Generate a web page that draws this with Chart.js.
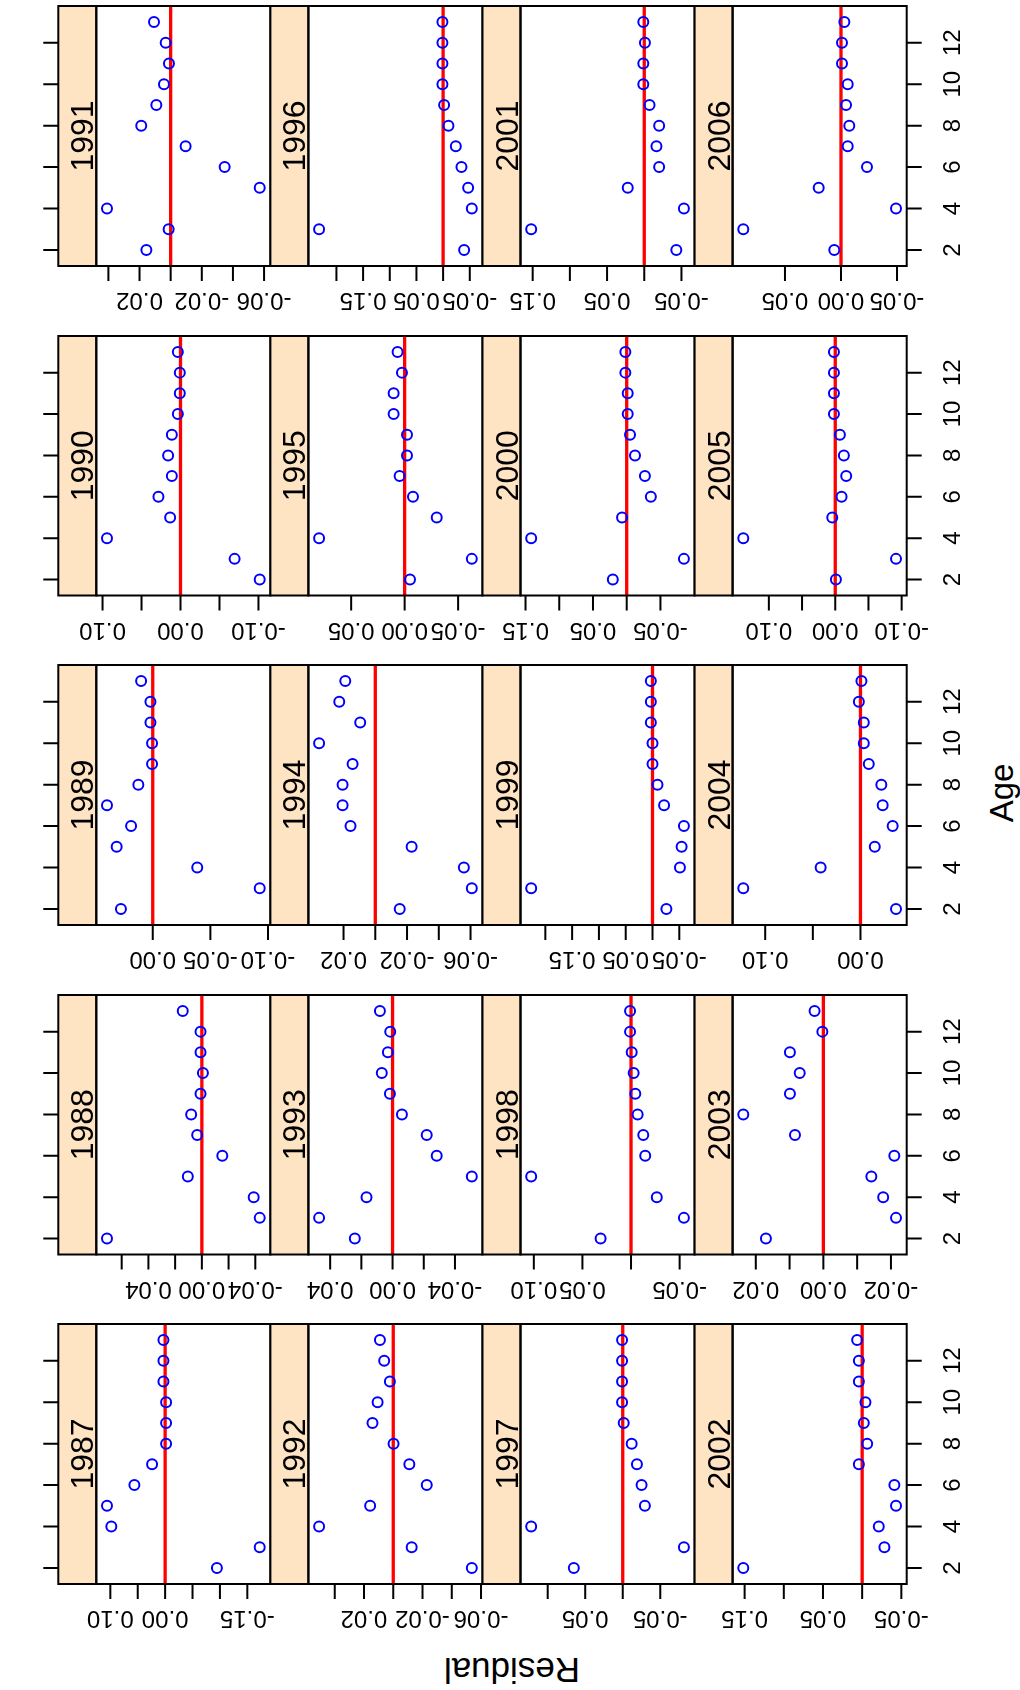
<!doctype html>
<html>
<head>
<meta charset="utf-8">
<title>Residuals by age and year</title>
<script src="https://cdn.jsdelivr.net/npm/chart.js@4.4.1/dist/chart.umd.min.js"></script>
<style>
  body { margin: 0; background: #fff; }
  #page { position: relative; width: 1020px; height: 1690px; overflow: hidden;
          font-family: "Liberation Sans", Arial, sans-serif; }
  #page canvas { position: absolute; }
  .title { position: absolute; font-size: 33px; line-height: 33px; white-space: nowrap; color: #000; }
</style>
</head>
<body>
<div id="page">
  <div class="title" id="ageTitle">Age</div>
  <div class="title" id="resTitle">Residual</div>
</div>
<script>
// ages on the vertical axis, one residual per age (2..13) for each year
const AGES = [2, 3, 4, 5, 6, 7, 8, 9, 10, 11, 12, 13];
const AGE_TICKS = [2, 4, 6, 8, 10, 12];
const YEARS = [1987, 1988, 1989, 1990, 1991, 1992, 1993, 1994, 1995, 1996,
               1997, 1998, 1999, 2000, 2001, 2002, 2003, 2004, 2005, 2006];

const res1987 = [-0.0945, -0.1726, 0.0982, 0.1061, 0.0561, 0.0238, -0.0018, -0.0018, -0.0018, 0.0031, 0.0031, 0.0031];
const res1988 = [0.0710, -0.0433, -0.0388, 0.0105, -0.0153, 0.0035, 0.0080, 0.0010, -0.0008, 0.0010, 0.0010, 0.0143];
const res1989 = [0.0276, -0.0928, -0.0386, 0.0313, 0.0188, 0.0397, 0.0125, 0.0006, 0.0006, 0.0020, 0.0020, 0.0101];
const res1990 = [-0.1016, -0.0694, 0.0943, 0.0133, 0.0283, 0.0111, 0.0159, 0.0111, 0.0034, 0.0009, 0.0009, 0.0034];
const res1991 = [0.0156, 0.0013, 0.0409, -0.0572, -0.0347, -0.0096, 0.0189, 0.0092, 0.0043, 0.0011, 0.0032, 0.0107];
const res1992 = [-0.0537, -0.0126, 0.0507, 0.0158, -0.0229, -0.0110, -0.0002, 0.0142, 0.0107, 0.0023, 0.0062, 0.0091];
const res1993 = [0.0242, 0.0471, 0.0167, -0.0508, -0.0283, -0.0219, -0.0060, 0.0017, 0.0069, 0.0030, 0.0015, 0.0081];
const res1994 = [-0.0154, -0.0608, -0.0558, -0.0229, 0.0156, 0.0206, 0.0206, 0.0143, 0.0354, 0.0095, 0.0227, 0.0189];
const res1995 = [-0.0050, -0.0628, 0.0800, -0.0300, -0.0078, 0.0047, -0.0022, -0.0022, 0.0103, 0.0103, 0.0025, 0.0066];
const res1996 = [-0.0394, 0.2325, -0.0538, -0.0469, -0.0344, -0.0238, -0.0100, -0.0019, 0.0013, 0.0013, 0.0013, 0.0013];
const res1997 = [0.0652, -0.0815, 0.1220, -0.0295, -0.0251, -0.0189, -0.0119, -0.0013, 0.0009, 0.0009, 0.0009, 0.0009];
const res1998 = [0.0313, -0.0544, -0.0265, 0.1027, -0.0146, -0.0126, -0.0068, -0.0044, -0.0027, -0.0007, 0.0010, 0.0010];
const res1999 = [-0.0259, 0.2264, -0.0512, -0.0543, -0.0586, -0.0216, -0.0093, 0.0000, 0.0000, 0.0031, 0.0031, 0.0031];
const res2000 = [0.0206, -0.0848, 0.1416, 0.0069, -0.0358, -0.0270, -0.0123, -0.0049, -0.0015, -0.0015, 0.0020, 0.0020];
const res2001 = [-0.0431, 0.1520, -0.0533, 0.0222, -0.0200, -0.0164, -0.0200, -0.0071, 0.0013, 0.0013, -0.0009, 0.0013];
const res2002 = [0.1517, -0.0284, -0.0212, -0.0432, -0.0411, 0.0042, -0.0064, -0.0021, -0.0042, 0.0042, 0.0042, 0.0064];
const res2003 = [0.0170, -0.0215, -0.0177, -0.0142, -0.0210, 0.0084, 0.0237, 0.0099, 0.0070, 0.0099, 0.0003, 0.0026];
const res2004 = [-0.0373, 0.1230, 0.0418, -0.0150, -0.0338, -0.0233, -0.0219, -0.0087, -0.0035, -0.0035, 0.0017, -0.0010];
const res2005 = [-0.0010, -0.0915, 0.1385, 0.0045, -0.0095, -0.0165, -0.0130, -0.0070, 0.0020, 0.0020, 0.0020, 0.0020];
const res2006 = [0.0060, 0.0872, -0.0491, 0.0199, -0.0232, -0.0060, -0.0074, -0.0045, -0.0060, -0.0009, -0.0009, -0.0030];

// residual axis ticks and the labels that are printed under each panel
const ticks1987 = [0.10, 0.05, 0, -0.05, -0.10, -0.15], labels1987 = ["0.10", "0.00", "-0.15"];
const ticks1988 = [0.06, 0.04, 0.02, 0, -0.02, -0.04], labels1988 = ["0.04", "0.00", "-0.04"];
const ticks1989 = [0, -0.05, -0.10], labels1989 = ["0.00", "-0.05", "-0.10"];
const ticks1990 = [0.10, 0.05, 0, -0.05, -0.10], labels1990 = ["0.10", "0.00", "-0.10"];
const ticks1991 = [0.04, 0.02, 0, -0.02, -0.04, -0.06], labels1991 = ["0.02", "-0.02", "-0.06"];
const ticks1992 = [0.04, 0.02, 0, -0.02, -0.04, -0.06], labels1992 = ["0.02", "-0.02", "-0.06"];
const ticks1993 = [0.04, 0.02, 0, -0.02, -0.04], labels1993 = ["0.04", "0.00", "-0.04"];
const ticks1994 = [0.02, 0, -0.02, -0.04, -0.06], labels1994 = ["0.02", "-0.02", "-0.06"];
const ticks1995 = [0.05, 0, -0.05], labels1995 = ["0.05", "0.00", "-0.05"];
const ticks1996 = [0.20, 0.15, 0.10, 0.05, 0, -0.05], labels1996 = ["0.15", "0.05", "-0.05"];
const ticks1997 = [0.10, 0.05, 0, -0.05], labels1997 = ["0.05", "-0.05"];
const ticks1998 = [0.10, 0.05, 0, -0.05], labels1998 = ["0.10", "0.05", "-0.05"];
const ticks1999 = [0.20, 0.15, 0.10, 0.05, 0, -0.05], labels1999 = ["0.15", "0.05", "-0.05"];
const ticks2000 = [0.15, 0.10, 0.05, 0, -0.05], labels2000 = ["0.15", "0.05", "-0.05"];
const ticks2001 = [0.15, 0.10, 0.05, 0, -0.05], labels2001 = ["0.15", "0.05", "-0.05"];
const ticks2002 = [0.15, 0.10, 0.05, 0, -0.05], labels2002 = ["0.15", "0.05", "-0.05"];
const ticks2003 = [0.02, 0.01, 0, -0.01, -0.02], labels2003 = ["0.02", "0.00", "-0.02"];
const ticks2004 = [0.10, 0.05, 0], labels2004 = ["0.10", "0.00"];
const ticks2005 = [0.10, 0.05, 0, -0.05, -0.10], labels2005 = ["0.10", "0.00", "-0.10"];
const ticks2006 = [0.05, 0, -0.05], labels2006 = ["0.05", "0.00", "-0.05"];

const PANELS = [
  [res1987, ticks1987, labels1987], [res1988, ticks1988, labels1988], [res1989, ticks1989, labels1989],
  [res1990, ticks1990, labels1990], [res1991, ticks1991, labels1991], [res1992, ticks1992, labels1992],
  [res1993, ticks1993, labels1993], [res1994, ticks1994, labels1994], [res1995, ticks1995, labels1995],
  [res1996, ticks1996, labels1996], [res1997, ticks1997, labels1997], [res1998, ticks1998, labels1998],
  [res1999, ticks1999, labels1999], [res2000, ticks2000, labels2000], [res2001, ticks2001, labels2001],
  [res2002, ticks2002, labels2002], [res2003, ticks2003, labels2003], [res2004, ticks2004, labels2004],
  [res2005, ticks2005, labels2005], [res2006, ticks2006, labels2006]
];

// layout (page pixels)
const COL_X = [58.3, 270.4, 482.5, 694.6, 906.7];
const BAND_TOP = [2.7, 332.2, 661.7, 991.2, 1320.7];
const PANEL_H = 263.3;
const STRIP_W = 38;
const TICK_LEN = 15;
const FONT = '"Liberation Sans", Arial, sans-serif';

const panelDecor = {
  id: 'panelDecor',
  afterDraw(chart, args, o) {
    const ctx = chart.ctx, a = chart.chartArea;
    const xs = chart.scales.x, ys = chart.scales.y;
    const h = a.bottom - a.top;
    ctx.save();
    // strip
    ctx.fillStyle = '#FFE4C4';
    ctx.fillRect(a.left - STRIP_W, a.top, STRIP_W, h);
    ctx.strokeStyle = '#000';
    ctx.lineWidth = 2;
    ctx.strokeRect(a.left - STRIP_W, a.top, STRIP_W, h);
    ctx.strokeRect(a.left, a.top, a.right - a.left, h);

    ctx.fillStyle = '#000';
    ctx.font = '32px ' + FONT;
    ctx.textAlign = 'center';
    ctx.textBaseline = 'alphabetic';
    ctx.save();
    ctx.translate(a.left - STRIP_W + 35, (a.top + a.bottom) / 2);
    ctx.rotate(-Math.PI / 2);
    ctx.fillText(String(o.year), 0, 0);
    ctx.restore();

    // residual ticks below the panel
    ctx.beginPath();
    o.ticks.forEach(v => {
      if (v < xs.min || v > xs.max) return;
      const px = xs.getPixelForValue(v);
      ctx.moveTo(px, a.bottom);
      ctx.lineTo(px, a.bottom + TICK_LEN);
    });
    // age ticks on the outer sides
    AGE_TICKS.forEach(v => {
      const py = ys.getPixelForValue(v);
      if (o.leftAxis) { ctx.moveTo(a.left - STRIP_W, py); ctx.lineTo(a.left - STRIP_W - TICK_LEN, py); }
      if (o.rightAxis) { ctx.moveTo(a.right, py); ctx.lineTo(a.right + TICK_LEN, py); }
    });
    ctx.stroke();

    ctx.font = '24px ' + FONT;
    o.labels.forEach(s => {
      const px = xs.getPixelForValue(parseFloat(s));
      ctx.save();
      ctx.translate(px, a.bottom + 27);
      ctx.rotate(Math.PI);
      ctx.fillText(s, 0, 0);
      ctx.restore();
    });
    if (o.rightAxis) {
      AGE_TICKS.forEach(v => {
        ctx.save();
        ctx.translate(a.right + 53, ys.getPixelForValue(v));
        ctx.rotate(-Math.PI / 2);
        ctx.fillText(String(v), 0, 0);
        ctx.restore();
      });
    }
    ctx.restore();
  }
};

const page = document.getElementById('page');

YEARS.forEach((year, i) => {
  const [res, ticks, labels] = PANELS[i];
  const col = Math.floor(i / 5);
  const band = 4 - (i % 5);

  const left = Math.floor(COL_X[col]) - 40;
  const top = Math.floor(BAND_TOP[band]) - 3;
  const width = Math.ceil(COL_X[col + 1]) + (col === 3 ? 80 : 40) - left;
  const height = Math.ceil(PANEL_H) + 3 + 72;

  const cv = document.createElement('canvas');
  cv.width = width; cv.height = height;
  cv.style.left = left + 'px'; cv.style.top = top + 'px';
  cv.style.width = width + 'px'; cv.style.height = height + 'px';
  page.appendChild(cv);

  // lattice-style limits: data range padded by 7% on each side
  const lo = Math.min(...res), hi = Math.max(...res);
  const pad = 0.07 * (hi - lo);

  new Chart(cv, {
    type: 'scatter',
    data: {
      datasets: [
        {
          data: AGES.map((age, k) => ({ x: res[k], y: age })),
          pointStyle: 'circle',
          pointRadius: 5,
          pointBorderWidth: 2,
          pointBorderColor: '#0000FF',
          pointBackgroundColor: 'rgba(0,0,0,0)'
        },
        {
          data: [{ x: 0, y: 1.23 }, { x: 0, y: 13.77 }],
          showLine: true,
          borderColor: '#FF0000',
          borderWidth: 3.3,
          pointRadius: 0
        }
      ]
    },
    options: {
      responsive: false,
      animation: false,
      devicePixelRatio: 1,
      events: [],
      layout: {
        padding: {
          left: COL_X[col] + STRIP_W - left,
          top: BAND_TOP[band] - top,
          right: width - (COL_X[col + 1] - left),
          bottom: height - (BAND_TOP[band] + PANEL_H - top)
        }
      },
      scales: {
        x: { type: 'linear', reverse: true, min: lo - pad, max: hi + pad, display: false },
        y: { type: 'linear', min: 1.23, max: 13.77, display: false }
      },
      plugins: {
        legend: { display: false },
        tooltip: { enabled: false },
        panelDecor: { year, ticks, labels, leftAxis: col === 0, rightAxis: col === 3 }
      }
    },
    plugins: [panelDecor]
  });
});

// outer axis titles
const ageTitle = document.getElementById('ageTitle');
ageTitle.style.left = '1001px';
ageTitle.style.top = '793px';
ageTitle.style.transform = 'translate(-50%, -50%) rotate(-90deg)';

const resTitle = document.getElementById('resTitle');
resTitle.style.left = '512px';
resTitle.style.top = '1670px';
resTitle.style.fontSize = '35px';
resTitle.style.transform = 'translate(-50%, -50%) rotate(180deg)';
</script>
</body>
</html>
